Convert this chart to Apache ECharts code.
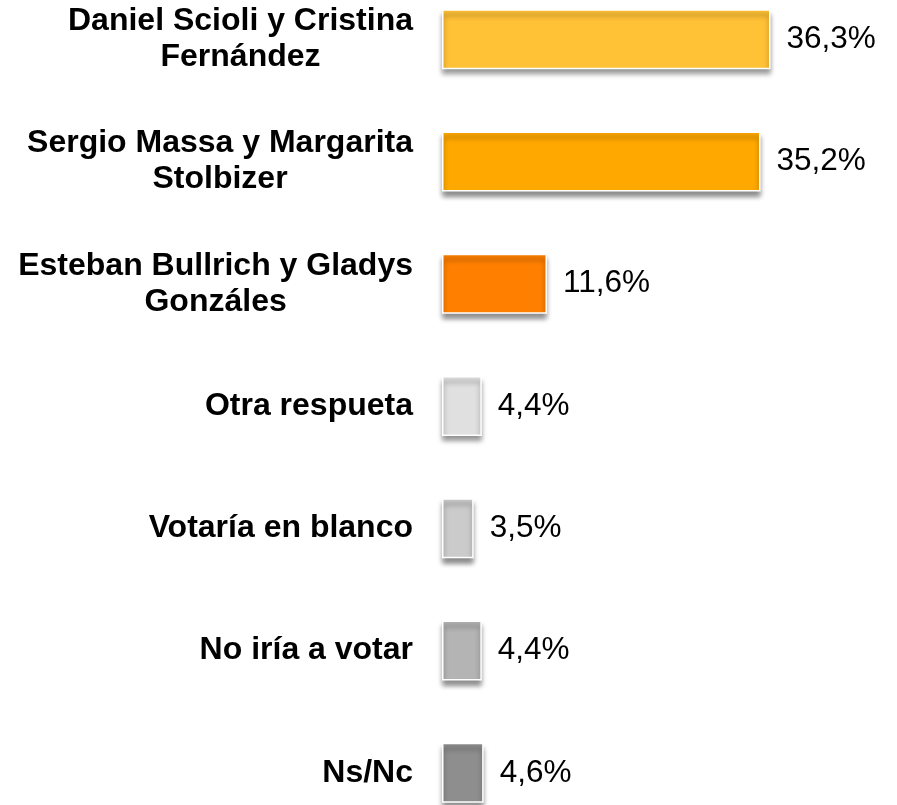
<!DOCTYPE html>
<html>
<head>
<meta charset="utf-8">
<script src="https://cdn.jsdelivr.net/npm/echarts@6/dist/echarts.min.js"></script>
<style>
  html, body { margin: 0; padding: 0; background: #fff; }
  #chart { width: 897px; height: 805px; }
</style>
</head>
<body>
<div id="chart"></div>
<script>
// datos de la encuesta
const categories = [
  'Daniel Scioli y Cristina\nFernández',
  'Sergio Massa y Margarita\nStolbizer',
  'Esteban Bullrich y Gladys\nGonzáles',
  'Otra respueta',
  'Votaría en blanco',
  'No iría a votar',
  'Ns/Nc'
];
const values = [36.3, 35.2, 11.6, 4.4, 3.5, 4.4, 4.6];
const colors = ['#FFC136', '#FFA800', '#FF7F00', '#E0E0E0', '#CBCBCB', '#B4B4B4', '#8E8E8E'];

const chart = echarts.init(document.getElementById('chart'));
const option = {
  animation: false,
  grid: {
    left: 442,
    top: -22,
    width: 452.5,
    height: 856,
    outerBoundsMode: 'none'
  },
  xAxis: {
    type: 'value',
    min: 0,
    max: 50,
    show: false
  },
  yAxis: {
    type: 'category',
    inverse: true,
    data: categories,
    axisLine: { show: false },
    axisTick: { show: false },
    axisLabel: {
      margin: 29,
      formatter: function (v) {
        return v.split('\n').map(l => '{a|' + l + '}').join('\n');
      },
      rich: {
        a: {
          fontFamily: 'Liberation Sans, Arial, sans-serif',
          fontSize: 32,
          fontWeight: 'bold',
          color: '#000',
          align: 'center',
          lineHeight: 36
        }
      }
    }
  },
  series: [{
    type: 'bar',
    barWidth: 60,
    data: values.map((v, i) => ({
      value: v,
      itemStyle: { color: colors[i] }
    })),
    itemStyle: {
      borderColor: '#fff',
      borderWidth: 1.5,
      shadowColor: 'rgba(0,0,0,0.45)',
      shadowBlur: 5,
      shadowOffsetY: 5,
      shadowOffsetX: 0
    },
    label: {
      show: true,
      position: 'right',
      distance: 16,
      fontFamily: 'Liberation Sans, Arial, sans-serif',
      fontSize: 31.5,
      color: '#000',
      formatter: p => p.value.toFixed(1).replace('.', ',') + '%'
    }
  }]
};
chart.setOption(option);
</script>
</body>
</html>
